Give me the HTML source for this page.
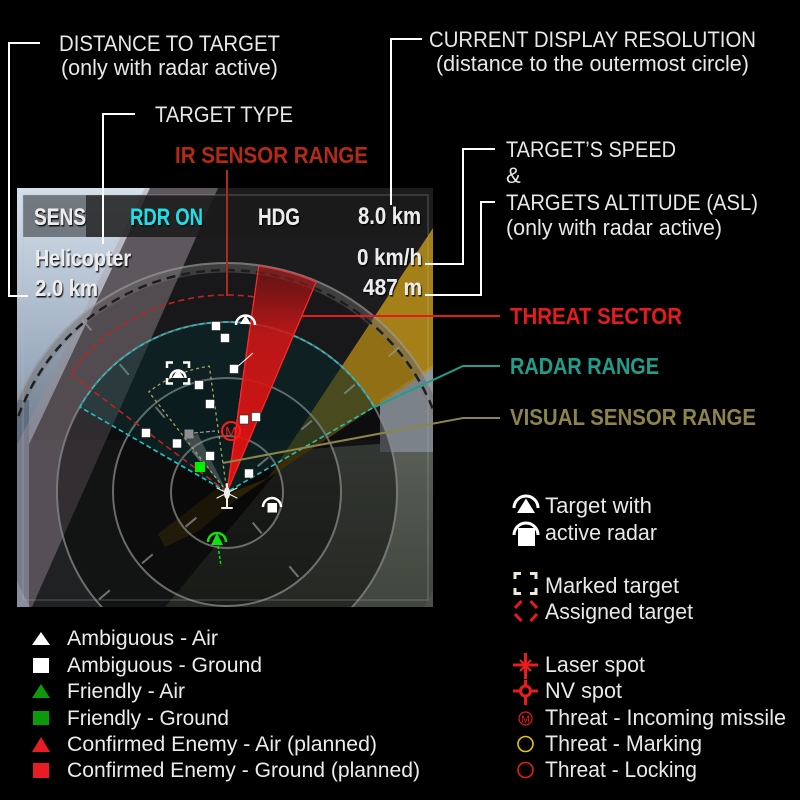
<!DOCTYPE html>
<html><head><meta charset="utf-8"><style>
html,body{margin:0;padding:0;background:#000;}
svg{display:block}
.a{font-family:"Liberation Sans",sans-serif;font-size:22px;fill:#e8e8e8;}
.l{font-family:"Liberation Sans",sans-serif;font-size:21px;fill:#ececec;}
.h{font-family:"Liberation Sans Narrow","Liberation Sans",sans-serif;font-weight:bold;font-size:24px;fill:#ececec;}
.b{font-family:"Liberation Sans Narrow","Liberation Sans",sans-serif;font-weight:bold;font-size:23px;}
</style></head><body>
<svg width="800" height="800" viewBox="0 0 800 800" xmlns="http://www.w3.org/2000/svg">
<defs>
<clipPath id="pc"><rect x="17" y="188" width="416" height="419"/></clipPath>
<linearGradient id="sky" x1="0" y1="0" x2="0" y2="1"><stop offset="0" stop-color="#d4e0ec"/><stop offset="1" stop-color="#7a8ca2"/></linearGradient>
<linearGradient id="land" x1="0" y1="0" x2="0" y2="1"><stop offset="0" stop-color="#666c64"/><stop offset="1" stop-color="#4a5046"/></linearGradient>
<linearGradient id="thr" gradientUnits="userSpaceOnUse" x1="0" y1="265" x2="0" y2="492">
<stop offset="0" stop-color="#8a1212" stop-opacity="0.6"/>
<stop offset="0.3" stop-color="#d01616" stop-opacity="0.88"/>
<stop offset="1" stop-color="#ea1010" stop-opacity="0.95"/>
</linearGradient>
<filter id="sh" x="-10%" y="-30%" width="130%" height="170%"><feDropShadow dx="1" dy="1.5" stdDeviation="0.6" flood-color="#000" flood-opacity="0.9"/></filter>
</defs>
<rect width="800" height="800" fill="#000"/>

<!-- ===== PANEL ===== -->
<g clip-path="url(#pc)">
<rect x="17" y="188" width="416" height="419" fill="#1c1c1e"/>
<rect x="17" y="440" width="416" height="167" fill="#242627"/>
<polygon points="295,450 433,440 433,607 165,607" fill="url(#land)"/>
<polygon points="380,400 433,365 433,452 380,452" fill="#8e949c"/>
<polygon points="17,188 150,188 17,470" fill="url(#sky)"/>
<rect x="17" y="400" width="12" height="207" fill="#6e7e94"/>
<polygon points="145,188 218,188 32,607 17,607 17,445" fill="#b0a0aa" opacity="0.45"/>
<polygon points="433,228 433,368 240,497 227,494 268,478" fill="#b58c18" opacity="0.9"/>
<polygon points="240,497 200,530 165,547 158,534 215,490 227,494" fill="#b58c18" opacity="0.45"/>

<!-- darkening discs -->
<circle cx="227" cy="492" r="228" fill="#000" opacity="0.12"/>
<circle cx="227" cy="492" r="170" fill="#000" opacity="0.42"/>
<circle cx="227" cy="492" r="114" fill="#000" opacity="0.33"/>
<circle cx="227" cy="492" r="57" fill="#000" opacity="0.22"/>

<!-- outer ring (upper arc only) -->
<path d="M16.5,415.4 A224,224 0 0 1 437.5,415.4" fill="none" stroke="#777" stroke-opacity="0.4" stroke-width="9"/>
<path d="M11.8,413.7 A229,229 0 0 1 442.2,413.7" fill="none" stroke="#999" stroke-opacity="0.7" stroke-width="2"/>
<path d="M18.4,416.1 A222,222 0 0 1 435.6,416.1" fill="none" stroke="#1e1e1e" stroke-width="2.5" stroke-dasharray="9 6"/>
<!-- range circles -->
<g fill="none" stroke="#8a8a8a" stroke-opacity="0.75" stroke-width="2">
<circle cx="227" cy="492" r="170"/>
<circle cx="227" cy="492" r="114"/>
<circle cx="227" cy="492" r="56"/>
</g>
<!-- ticks -->
<g stroke="#999" stroke-opacity="0.7" stroke-width="2">
<line x1="257.6" y1="466.3" x2="268.4" y2="457.3"/>
<line x1="252.7" y1="522.6" x2="261.7" y2="533.4"/>
<line x1="196.4" y1="517.7" x2="185.6" y2="526.7"/>
<line x1="201.3" y1="461.4" x2="192.3" y2="450.6"/>
<line x1="301.3" y1="429.6" x2="312" y2="420.6"/>
<line x1="289.4" y1="566.3" x2="298.4" y2="577"/>
<line x1="152.7" y1="554.4" x2="142" y2="563.4"/>
<line x1="164.6" y1="417.7" x2="155.6" y2="407"/>
<line x1="344.2" y1="393.7" x2="354.9" y2="384.7"/>
<line x1="109.8" y1="590.3" x2="99.1" y2="599.3"/>
<line x1="128.7" y1="374.8" x2="119.7" y2="364.1"/>
<line x1="388.6" y1="356.4" x2="399.4" y2="347.4"/>
<line x1="91.4" y1="330.4" x2="82.4" y2="319.6"/>
</g>

<!-- radar sector -->
<path d="M227,492 L79.8,407 A170,170 0 0 1 374.2,407 Z" fill="#1e7a7a" fill-opacity="0.18" stroke="#22c0c0" stroke-width="1.6" stroke-dasharray="5 3"/>
<!-- IR sector -->
<path d="M227,492 L69.7,373.4 A197,197 0 0 1 254.4,296.9 Z" fill="none" stroke="#c42020" stroke-width="1.6" stroke-dasharray="6 4"/>
<!-- visual sector -->
<path d="M227,492 L148.8,391.9 A127,127 0 0 1 209.3,366.2 Z" fill="none" stroke="#a8a058" stroke-width="1.3" stroke-dasharray="3 3"/>
<polygon points="183,438 198,434 227,492" fill="#a0a0a0" opacity="0.35"/>
<!-- threat sector -->
<path d="M227,492 L258.7,266.2 A228,228 0 0 1 316.1,282.1 Z" fill="url(#thr)" stroke="#ff2a2a" stroke-width="1.2"/>

<!-- top bar -->
<rect x="23" y="195" width="63" height="42" fill="#6a7076" opacity="0.92"/>
<rect x="86" y="195" width="342" height="42" fill="#1a1a1a" opacity="0.85"/>
<rect x="23" y="195" width="405" height="405" fill="none" stroke="#bbb" stroke-opacity="0.25" stroke-width="1.5"/>

<!-- symbols -->
<g fill="#fff" stroke="#222" stroke-width="0.6">
<rect x="211.5" y="321.5" width="9" height="9"/>
<rect x="220.5" y="333.5" width="9" height="9"/>
<rect x="229.5" y="364.5" width="9" height="9"/>
<rect x="194.5" y="380.5" width="9" height="9"/>
<rect x="205.5" y="399.5" width="9" height="9"/>
<rect x="239.5" y="415" width="9" height="9"/>
<rect x="251.5" y="412.5" width="9" height="9"/>
<rect x="141.5" y="428.5" width="9" height="9"/>
<rect x="172.5" y="439" width="9" height="9"/>
<rect x="205.5" y="451.5" width="9" height="9"/>
<rect x="244.5" y="469" width="9" height="9"/>
</g>
<line x1="237" y1="367" x2="253" y2="353" stroke="#fff" stroke-width="1"/>
<rect x="184.5" y="429.5" width="9" height="9" fill="#8e8e8e"/>
<line x1="194" y1="433" x2="215" y2="431" stroke="#999" stroke-width="1.2" stroke-dasharray="4 2"/>
<rect x="195" y="462" width="10" height="10" fill="#00f000"/>

<!-- radar air target top -->
<path d="M236,325 A9.5,9.5 0 0 1 255,325" fill="none" stroke="#fff" stroke-width="2.5"/>
<polygon points="245.5,315 251,324 240,324" fill="#fff"/>
<!-- marked target -->
<g fill="none" stroke="#fff" stroke-width="2.5">
<path d="M167,368 V362.5 H173"/><path d="M183,362.5 H189 V368"/>
<path d="M167,378 V383.5 H173"/><path d="M183,383.5 H189 V378"/>
<path d="M170.5,378 A7.5,7.5 0 0 1 185.5,378"/>
</g>
<polygon points="178,369 184,378 172,378" fill="#fff"/>
<!-- radar ground target -->
<path d="M263,507 A9,9 0 0 1 281,507" fill="none" stroke="#fff" stroke-width="2.5"/>
<rect x="267.5" y="503" width="9.5" height="9.5" fill="#fff"/>
<!-- missile threat -->
<circle cx="231" cy="431" r="9" fill="none" stroke="#ff1a1a" stroke-width="2"/>
<text x="231" y="436.5" text-anchor="middle" font-family="Liberation Sans,sans-serif" font-size="14" fill="#ff1a1a">M</text>
<!-- friendly radar -->
<path d="M208,542 A9,9 0 0 1 226,542" fill="none" stroke="#12e012" stroke-width="2.5"/>
<polygon points="217,533 223,545 211,545" fill="#12e012"/>
<line x1="218" y1="546" x2="221" y2="566" stroke="#12e012" stroke-width="1.5" stroke-dasharray="3 2"/>
<!-- helicopter -->
<g stroke="#f0f0f0" stroke-width="2" stroke-linecap="round" fill="none">
<line x1="227" y1="484" x2="227" y2="508"/>
<line x1="222" y1="508" x2="232" y2="508"/>
<line x1="217" y1="488" x2="237" y2="498" stroke-width="1.2"/>
<line x1="237" y1="488" x2="217" y2="498" stroke-width="1.2"/>
</g>
<ellipse cx="227" cy="493" rx="3" ry="6" fill="#f0f0f0"/>

<!-- HUD text -->
<g class="h" filter="url(#sh)">
<text x="34" y="225" textLength="52" lengthAdjust="spacingAndGlyphs">SENS</text>
<text x="130" y="225" textLength="73" lengthAdjust="spacingAndGlyphs" style="fill:#22dde6">RDR ON</text>
<text x="258" y="225" textLength="42" lengthAdjust="spacingAndGlyphs">HDG</text>
<text x="358" y="224" textLength="63" lengthAdjust="spacingAndGlyphs">8.0 km</text>
<text x="35" y="266" textLength="96" lengthAdjust="spacingAndGlyphs" style="font-size:23px">Helicopter</text>
<text x="357" y="265" textLength="65" lengthAdjust="spacingAndGlyphs" style="font-size:23px">0 km/h</text>
<text x="35" y="296" textLength="63" lengthAdjust="spacingAndGlyphs" style="font-size:23px">2.0 km</text>
<text x="363" y="295" textLength="59" lengthAdjust="spacingAndGlyphs" style="font-size:23px">487 m</text>
</g>
</g>

<!-- ===== CONNECTORS ===== -->
<g fill="none" stroke="#fff" stroke-width="2">
<polyline points="40,43 9,43 9,296 28,296"/>
<polyline points="135,114 103,114 103,244"/>
<polyline points="422,39 391,39 391,205"/>
<polyline points="495,149 463,149 463,264 425,264"/>
<polyline points="495,202 481,202 481,295 425,295"/>
</g>
<line x1="227" y1="170" x2="227" y2="296" stroke="#b02a18" stroke-width="2"/>
<line x1="302" y1="316" x2="500" y2="316" stroke="#e41c1c" stroke-width="2"/>
<polyline points="375,407 463,366 500,366" fill="none" stroke="#1f9e8c" stroke-width="2"/>
<polyline points="223,463 463,418 500,418" fill="none" stroke="#8c8448" stroke-width="2"/>

<!-- ===== ANNOTATIONS ===== -->
<g class="a">
<text x="59" y="51" textLength="221" lengthAdjust="spacingAndGlyphs">DISTANCE TO TARGET</text>
<text x="61" y="75" textLength="217" lengthAdjust="spacingAndGlyphs">(only with radar active)</text>
<text x="155" y="122" textLength="138" lengthAdjust="spacingAndGlyphs">TARGET TYPE</text>
<text x="429" y="47" textLength="327" lengthAdjust="spacingAndGlyphs">CURRENT DISPLAY RESOLUTION</text>
<text x="436" y="71" textLength="313" lengthAdjust="spacingAndGlyphs">(distance to the outermost circle)</text>
<text x="506" y="157" textLength="170" lengthAdjust="spacingAndGlyphs">TARGET’S SPEED</text>
<text x="506" y="183">&amp;</text>
<text x="506" y="210" textLength="252" lengthAdjust="spacingAndGlyphs">TARGETS ALTITUDE (ASL)</text>
<text x="506" y="235" textLength="216" lengthAdjust="spacingAndGlyphs">(only with radar active)</text>
</g>
<g class="b">
<text x="175" y="163" textLength="193" lengthAdjust="spacingAndGlyphs" fill="#b42a18">IR SENSOR RANGE</text>
<text x="510" y="324" textLength="172" lengthAdjust="spacingAndGlyphs" fill="#e41c1c">THREAT SECTOR</text>
<text x="510" y="374" textLength="149" lengthAdjust="spacingAndGlyphs" fill="#1f9e8c">RADAR RANGE</text>
<text x="510" y="425" textLength="246" lengthAdjust="spacingAndGlyphs" fill="#8c8448">VISUAL SENSOR RANGE</text>
</g>

<!-- ===== LEFT LEGEND ===== -->
<polygon points="41,632 50,645 32,645" fill="#fff"/>
<rect x="33" y="658" width="16" height="15" fill="#fff"/>
<polygon points="41,684 50,698 32,698" fill="#0a9a0a"/>
<rect x="33" y="711" width="16" height="14" fill="#0a9a0a"/>
<polygon points="41,737 50,752 32,752" fill="#e81c24"/>
<rect x="33" y="763" width="16" height="15" fill="#e81c24"/>
<g class="l">
<text x="67" y="645" textLength="151" lengthAdjust="spacingAndGlyphs">Ambiguous - Air</text>
<text x="67" y="672" textLength="195" lengthAdjust="spacingAndGlyphs">Ambiguous - Ground</text>
<text x="67" y="698" textLength="118" lengthAdjust="spacingAndGlyphs">Friendly - Air</text>
<text x="67" y="725" textLength="162" lengthAdjust="spacingAndGlyphs">Friendly - Ground</text>
<text x="67" y="751" textLength="310" lengthAdjust="spacingAndGlyphs">Confirmed Enemy - Air (planned)</text>
<text x="67" y="777" textLength="353" lengthAdjust="spacingAndGlyphs">Confirmed Enemy - Ground (planned)</text>
</g>

<!-- ===== RIGHT LEGEND ===== -->
<path d="M514,508 A12,12 0 0 1 538,508" fill="none" stroke="#fff" stroke-width="3"/>
<polygon points="526,498.5 535,513 517,513" fill="#fff"/>
<path d="M514,535 A12,12 0 0 1 538,535" fill="none" stroke="#fff" stroke-width="3"/>
<rect x="518" y="528" width="17" height="18" fill="#fff"/>
<g fill="none" stroke="#f0e8dc" stroke-width="3">
<path d="M515,579 V573.5 H521"/><path d="M530,573.5 H536 V579"/>
<path d="M515,588 V593.5 H521"/><path d="M530,593.5 H536 V588"/>
</g>
<g stroke="#e81c1c" stroke-width="3" stroke-linecap="butt">
<line x1="515" y1="608" x2="521.5" y2="601"/><line x1="530.5" y1="601" x2="537" y2="608"/>
<line x1="515" y1="614" x2="521.5" y2="621"/><line x1="530.5" y1="621" x2="537" y2="614"/>
</g>
<g stroke="#e81c1c" stroke-width="3">
<line x1="513" y1="665" x2="538" y2="665"/>
<line x1="525.5" y1="653" x2="525.5" y2="679"/>
<line x1="520" y1="660" x2="531" y2="671" stroke-width="2"/>
<line x1="531" y1="660" x2="520" y2="671" stroke-width="2"/>
</g>
<g stroke="#e81c1c" stroke-width="3" fill="none">
<circle cx="525.5" cy="691" r="5"/>
<line x1="513" y1="691" x2="520.5" y2="691"/><line x1="530.5" y1="691" x2="538" y2="691"/>
<line x1="525.5" y1="680" x2="525.5" y2="686"/><line x1="525.5" y1="696" x2="525.5" y2="705"/>
</g>
<circle cx="525.5" cy="718.5" r="6.5" fill="none" stroke="#e81c1c" stroke-width="1.2"/>
<text x="525.5" y="722.5" text-anchor="middle" font-family="Liberation Sans,sans-serif" font-size="10" fill="#e81c1c">M</text>
<circle cx="525.5" cy="744" r="7.5" fill="none" stroke="#e6c414" stroke-width="1.6"/>
<circle cx="525.5" cy="770" r="7.5" fill="none" stroke="#e81c1c" stroke-width="1.6"/>
<g class="a">
<text x="545" y="513" textLength="107" lengthAdjust="spacingAndGlyphs">Target with</text>
<text x="545" y="540" textLength="112" lengthAdjust="spacingAndGlyphs">active radar</text>
<text x="545" y="593" textLength="134" lengthAdjust="spacingAndGlyphs">Marked target</text>
<text x="545" y="619" textLength="148" lengthAdjust="spacingAndGlyphs">Assigned target</text>
<text x="545" y="672" textLength="100" lengthAdjust="spacingAndGlyphs">Laser spot</text>
<text x="545" y="698" textLength="77" lengthAdjust="spacingAndGlyphs">NV spot</text>
<text x="545" y="725" textLength="241" lengthAdjust="spacingAndGlyphs">Threat - Incoming missile</text>
<text x="545" y="751" textLength="157" lengthAdjust="spacingAndGlyphs">Threat - Marking</text>
<text x="545" y="777" textLength="152" lengthAdjust="spacingAndGlyphs">Threat - Locking</text>
</g>
</svg>
</body></html>
